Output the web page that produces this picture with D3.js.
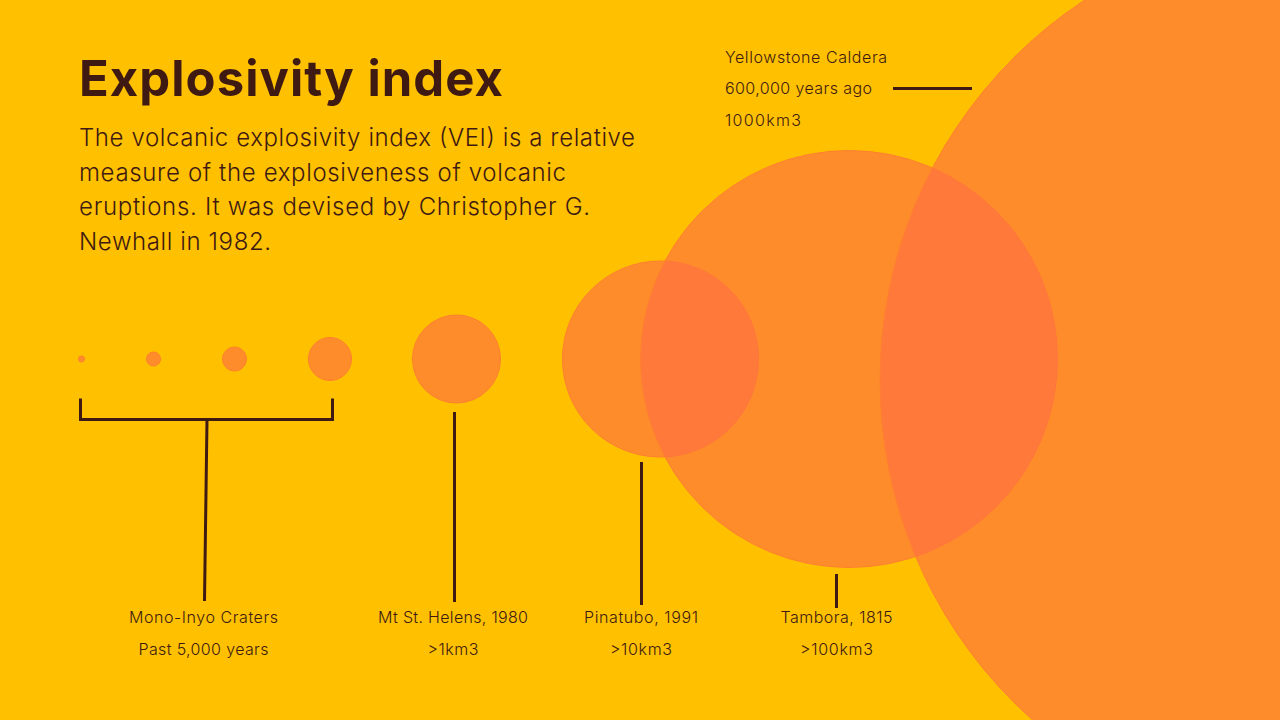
<!DOCTYPE html>
<html>
<head>
<meta charset="utf-8">
<script src="https://cdn.jsdelivr.net/npm/d3@7"></script>
<style>
  html, body { margin: 0; padding: 0; background: #FFC000; }
  svg { display: block; }
  text { font-family: Inter, "Open Sans", sans-serif; fill: #3E1A12; }
</style>
</head>
<body>
<svg id="chart" width="1280" height="720"></svg>
<script>
// eruptions, smallest to largest
var eruptions = ["VEI 1", "VEI 2", "VEI 3", "VEI 4", "Mt St. Helens", "Pinatubo", "Tambora", "Yellowstone"];
// volume in km3, estimated from the circle sizes
var volumes = [0.00029, 0.00364, 0.0183, 0.1055, 0.904, 10, 96.2, 1000];

var titleText = "Explosivity index";
var introLines = [
  "The volcanic explosivity index (VEI) is a relative",
  "measure of the explosiveness of volcanic",
  "eruptions. It was devised by Christopher G.",
  "Newhall in 1982."
];
var labelLines = [
  ["Mono-Inyo Craters", "Past 5,000 years"],
  ["Mt St. Helens, 1980", ">1km3"],
  ["Pinatubo, 1991", ">10km3"],
  ["Tambora, 1815", ">100km3"]
];
var yellowstoneLines = ["Yellowstone Caldera", "600,000 years ago", "1000km3"];

var svg = d3.select("#chart");
var ink = "#3E1A12";

// circle area goes with the cube root of the volume
var radius = d3.scalePow().exponent(1 / 3).domain([0, 1000]).range([0, 455]);
var centerX = d3.scaleOrdinal()
  .domain(eruptions)
  .range([81.5, 153.5, 234.5, 330, 456.5, 660.5, 849, 1335]);
var centerY = d3.scaleOrdinal()
  .domain(eruptions)
  .range([359, 359, 359, 359, 359, 359, 359, 380]);

svg.append("rect")
  .attr("width", 1280)
  .attr("height", 720)
  .attr("fill", "#FFC000");

svg.selectAll("circle.eruption")
  .data(eruptions)
  .enter()
  .append("circle")
  .attr("class", "eruption")
  .attr("cx", d => centerX(d))
  .attr("cy", d => centerY(d))
  .attr("r", (d, i) => radius(volumes[i]))
  .attr("fill", "#FF7042")
  .attr("fill-opacity", 0.65)
  .attr("stroke", "#FF7F30")
  .attr("stroke-width", 1);

// title and intro
svg.append("text")
  .attr("x", 79)
  .attr("y", 96)
  .attr("font-size", 49)
  .attr("font-weight", 700)
  .attr("textLength", 424)
  .attr("lengthAdjust", "spacing")
  .text(titleText);

var introWidths = [556, 487, 511, 192];
svg.selectAll("text.intro")
  .data(introLines)
  .enter()
  .append("text")
  .attr("class", "intro")
  .attr("x", 79)
  .attr("y", (d, i) => 146 + i * 34.7)
  .attr("font-size", 24)
  .attr("font-weight", 300)
  .attr("textLength", (d, i) => introWidths[i])
  .attr("lengthAdjust", "spacing")
  .text(d => d);

// brackets and leader lines
var line = d3.line();
var leaders = [
  [[80.5, 398.5], [80.5, 419.5], [332.5, 419.5], [332.5, 398.5]],
  [[207, 419.5], [204.5, 601]],
  [[454.5, 412], [454.5, 602]],
  [[641.5, 462], [641.5, 605]],
  [[836.5, 574], [836.5, 608]],
  [[893, 88.5], [972, 88.5]]
];
svg.selectAll("path.leader")
  .data(leaders)
  .enter()
  .append("path")
  .attr("class", "leader")
  .attr("d", d => line(d))
  .attr("fill", "none")
  .attr("stroke", ink)
  .attr("stroke-width", 3);

// labels under the circles
var labelX = [203.5, 453, 641, 836.5];
var labelWidths = [[149, 130], [150, 51], [114, 62], [112, 73]];
labelLines.forEach((lines, i) => {
  lines.forEach((txt, j) => {
    svg.append("text")
      .attr("x", labelX[i])
      .attr("y", 623 + j * 32)
      .attr("text-anchor", "middle")
      .attr("font-size", 16)
      .attr("font-weight", 300)
      .attr("textLength", labelWidths[i][j])
      .attr("lengthAdjust", "spacing")
      .text(txt);
  });
});

var yellowstoneWidths = [162, 147, 76];
yellowstoneLines.forEach((txt, j) => {
  svg.append("text")
    .attr("x", 725)
    .attr("y", 63 + j * 31.4)
    .attr("font-size", 16)
    .attr("font-weight", 300)
    .attr("textLength", yellowstoneWidths[j])
    .attr("lengthAdjust", "spacing")
    .text(txt);
});
</script>
</body>
</html>
